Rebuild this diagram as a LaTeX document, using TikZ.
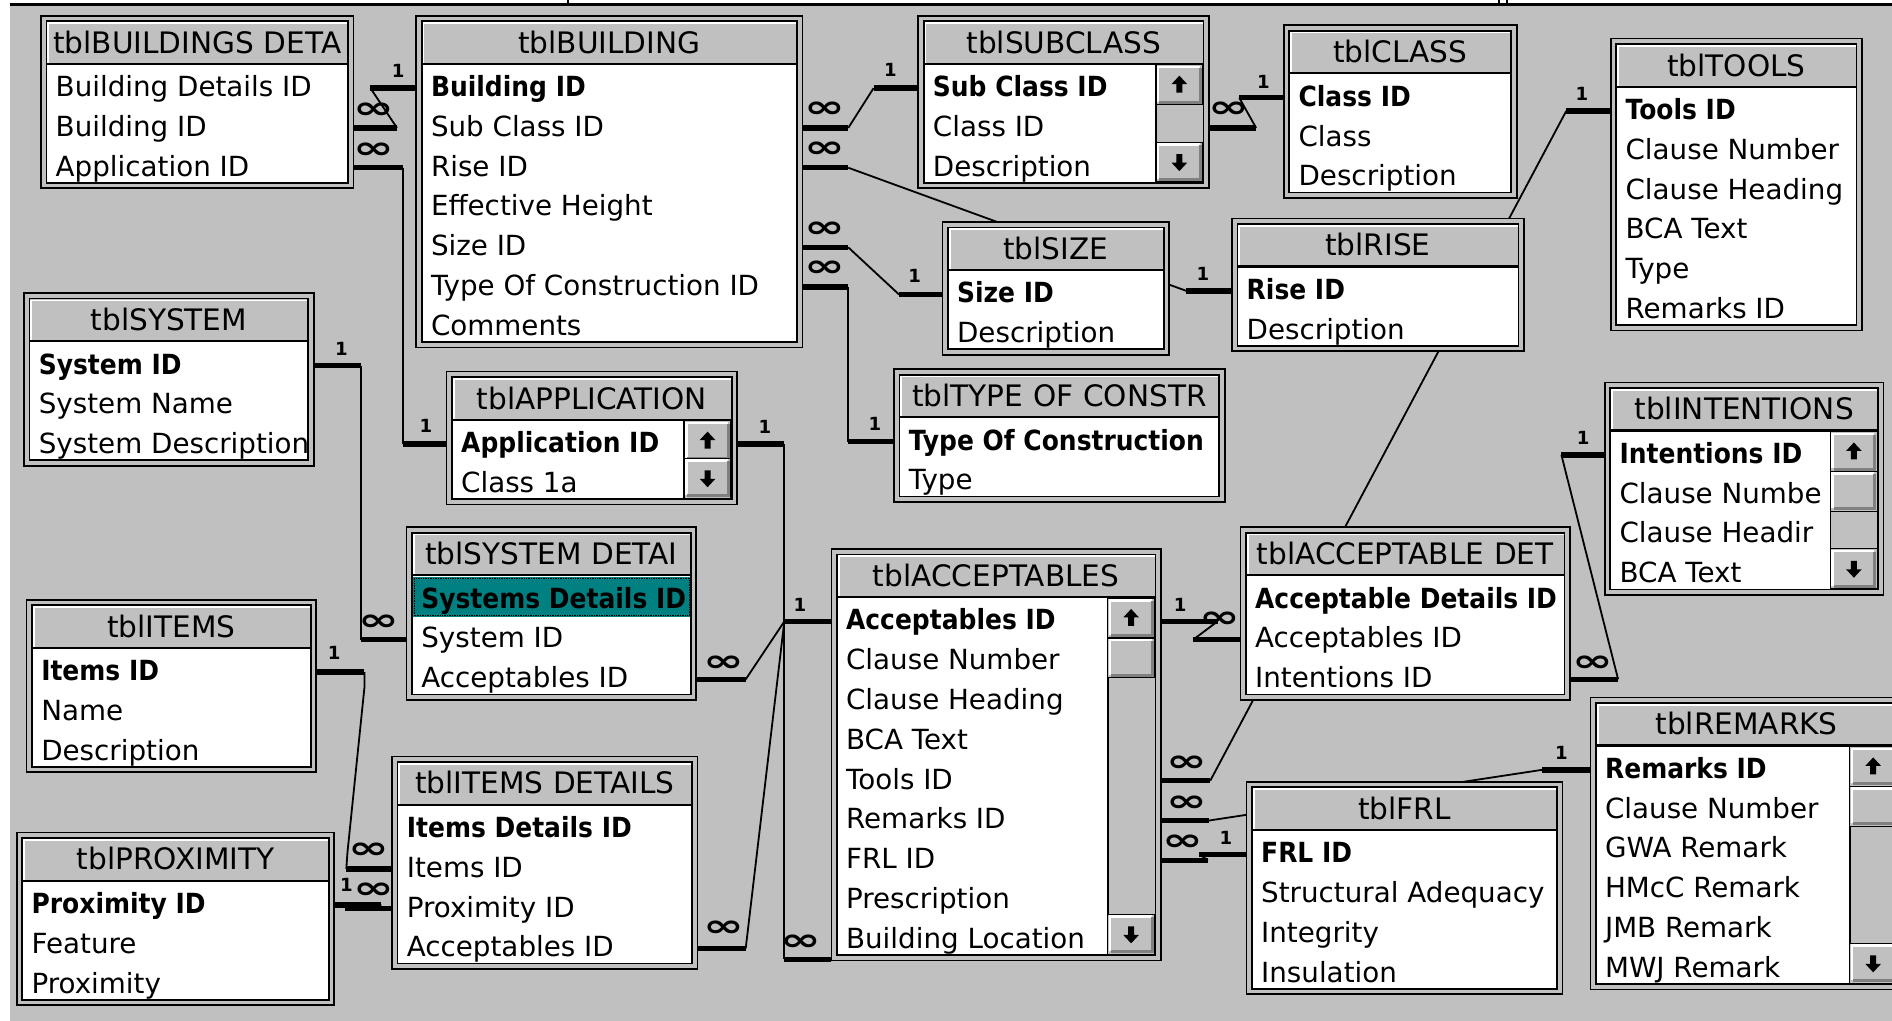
\documentclass[tikz,border=0pt]{standalone}
\usepackage{fontspec}
\setmainfont{DejaVu Sans}
\newfontfamily\keyfont[FakeStretch=0.9]{DejaVu Sans}
\usepackage{graphicx}
\usepackage{xcolor}
\definecolor{panelgray}{RGB}{192,192,192}
\definecolor{btnshadow}{RGB}{128,128,128}
\definecolor{selteal}  {RGB}{0,  128,128}
\pgfdeclarelayer{back}
\pgfdeclarelayer{links}
\pgfsetlayers{back,links,main}

\newcommand{\key}{\keyfont\bfseries}
\newcommand{\many}{\scalebox{1.35}[0.85]{∞}}
% id, x0, y0, x1, rows, title, fields, extra
\newcommand{\dbtable}[8]{%
    \pgfmathsetmacro{\yb}{#3+77+33*(#5-1)}
    \pgfmathsetmacro{\tw}{#4-#2-14}
    \draw[tblframe, fill=panelgray] (#2,#3) rectangle (#4,\yb);
    \draw[tblframe, fill=white] (#2+4.5,#3+4.5) rectangle (#4-4.5,\yb-4.5);
    \fill[panelgray] (#2+5.2,#3+5.2) rectangle (#4-5.2,#3+39);
    \draw[white, line width=1.5] (#2+6,#3+39) -- (#2+6,#3+6) -- (#4-5.2,#3+6);
    \draw[line width=1.8] (#2+5.2,#3+39.8) -- (#4-5.2,#3+39.8);
    \begin{scope}
        \clip (#2+5.2,#3+5.2) rectangle (#4-5.2,#3+39);
        \node[tbltitle, text width=\tw pt] (#1) at ({(#2+#4)/2},#3+31) {\mbox{#6}};
    \end{scope}
    #8
    \begin{scope}
        \clip (#2+5.2,#3+40.7) rectangle (#4-5.2,\yb-5.2);
        \foreach \fld [count=\i] in {#7}
            \node[fieldtxt] (#1-\i) at (#2+12,#3+67+33*\i-33) {\fld};
    \end{scope}
    \foreach \fld [count=\i] in {#7} {
        \coordinate (#1-\i-w) at (#2,#3+60+33*\i-33);
        \coordinate (#1-\i-e) at (#4,#3+60+33*\i-33);
    }
    \coordinate (#1-bw) at (#2,\yb-1);
}
\newcommand{\sbbutton}[4]{%
    \draw[line width=1, fill=panelgray] (#1,#2) rectangle (#3,#4);
    \draw[white, line width=2] (#1+1.8,#4-2.5) -- (#1+1.8,#2+1.8) -- (#3-2.5,#2+1.8);
    \draw[btnshadow, line width=2.5] (#1+2.5,#4-2) -- (#3-2,#4-2) -- (#3-2,#2+2.5);
}
% x1, y0, rows, thumb
\newcommand{\scrollbar}[4]{%
    \pgfmathsetmacro{\sxa}{#1-44}
    \pgfmathsetmacro{\sxb}{#1-5.2}
    \pgfmathsetmacro{\sya}{#2+40.7}
    \pgfmathsetmacro{\syb}{#2+77+33*(#3-1)-5.2}
    \pgfmathsetmacro{\sxm}{(\sxa+\sxb)/2}
    \fill[panelgray] (\sxa,\sya) rectangle (\sxb,\syb);
    \draw[line width=1.5] (\sxa,\sya) -- (\sxa,\syb);
    \sbbutton{\sxa}{\sya}{\sxb}{\sya+33}
    \fill (\sxm,\sya+9) -- ++(6.5,7) -- ++(-4,0) -- ++(0,7) -- ++(-5,0) -- ++(0,-7) -- ++(-4,0) -- cycle;
    \ifnum#4=1 \sbbutton{\sxa}{\sya+33}{\sxb}{\sya+66}\fi
    \sbbutton{\sxa}{\syb-33}{\sxb}{\syb}
    \fill (\sxm,\syb-9) -- ++(6.5,-7) -- ++(-4,0) -- ++(0,-7) -- ++(-5,0) -- ++(0,7) -- ++(-4,0) -- cycle;
}

\begin{document}
\begin{tikzpicture}[x=1pt, y=-1pt,
    tblframe/.style={line width=1.4},
    tbltitle/.style={font=\fontsize{24.5}{28}\selectfont, inner sep=0pt, anchor=base, align=center},
    fieldtxt/.style={font=\fontsize{23}{26}\selectfont, inner sep=0pt, anchor=base west},
    stub/.style={line width=4.5},
    link/.style={line width=1.5},
    one/.style={font=\fontsize{15}{15}\selectfont\bfseries, inner sep=0pt},
    many/.style={font=\fontsize{30}{30}\selectfont\bfseries, inner sep=0pt}]
    \useasboundingbox (0,0) rectangle (1568,846);

    \begin{pgfonlayer}{back}
        \fill[white] (0,0) rectangle (1568,846);
        \fill[panelgray] (8,5) rectangle (1568,846);
        \draw[line width=3] (8,3.6) -- (1568,3.6);
        \draw[line width=1.5] (471,0) -- (471,3) (1242,0) -- (1242,3) (1249,0) -- (1249,3);
    \end{pgfonlayer}

    \dbtable{bdet}{34}{13}{293}{3}{tblBUILDINGS DETA}
        {Building Details ID, Building ID, Application ID}{}
    \dbtable{bld}{345}{13}{665}{7}{tblBUILDING}
        {\key Building ID, Sub Class ID, Rise ID, Effective Height, Size ID, Type Of Construction ID, Comments}{}
    \dbtable{sub}{761}{13}{1002}{3}{tblSUBCLASS}
        {\key Sub Class ID, Class ID, Description}{}
    \scrollbar{1002}{13}{3}{0}
    \dbtable{cls}{1064}{21}{1257}{3}{tblCLASS}
        {\key Class ID, Class, Description}{}
    \dbtable{tls}{1335}{32}{1543}{6}{tblTOOLS}
        {\key Tools ID, Clause Number, Clause Heading, BCA Text, Type, Remarks ID}{}
    \dbtable{sys}{20}{243}{260}{3}{tblSYSTEM}
        {\key System ID, System Name, System Description}{}
    \dbtable{size}{781}{184}{969}{2}{tblSIZE}
        {\key Size ID, Description}{}
    \dbtable{rise}{1021}{181}{1263}{2}{tblRISE}
        {\key Rise ID, Description}{}
    \dbtable{app}{370}{308}{611}{2}{tblAPPLICATION}
        {\key Application ID, Class 1a}{}
    \scrollbar{611}{308}{2}{0}
    \dbtable{toc}{741}{306}{1015}{2}{tblTYPE OF CONSTR}
        {\key Type Of Construction, Type}{}
    \dbtable{int}{1330}{317}{1561}{4}{tblINTENTIONS}
        {\key Intentions ID, Clause Numbe, Clause Headir, BCA Text}{}
    \scrollbar{1561}{317}{4}{1}
    \dbtable{sdt}{337}{437}{577}{3}{tblSYSTEM DETAI}
        {\key Systems Details ID, System ID, Acceptables ID}
        {\fill[selteal] (342,478) rectangle (572,511);
         \draw[densely dotted] (343,478.8) rectangle (571,510.2);}
    \dbtable{acc}{689}{455}{962}{9}{tblACCEPTABLES}
        {\key Acceptables ID, Clause Number, Clause Heading, BCA Text, Tools ID, Remarks ID, FRL ID, Prescription, Building Location}{}
    \scrollbar{962}{455}{9}{1}
    \dbtable{adt}{1028}{437}{1301}{3}{tblACCEPTABLE DET}
        {\key Acceptable Details ID, Acceptables ID, Intentions ID}{}
    \dbtable{itm}{22}{497}{262}{3}{tblITEMS}
        {\key Items ID, Name, Description}{}
    \dbtable{idt}{325}{627}{578}{4}{tblITEMS DETAILS}
        {\key Items Details ID, Items ID, Proximity ID, Acceptables ID}{}
    \dbtable{prx}{14}{690}{277}{3}{tblPROXIMITY}
        {\key Proximity ID, Feature, Proximity}{}
    \dbtable{frl}{1033}{648}{1295}{4}{tblFRL}
        {\key FRL ID, Structural Adequacy, Integrity, Insulation}{}
    \dbtable{rem}{1318}{578}{1577}{6}{tblREMARKS}
        {\key Remarks ID, Clause Number, GWA Remark, HMcC Remark, JMB Remark, MWJ Remark}{}
    \scrollbar{1577}{578}{6}{1}

    \begin{pgfonlayer}{links}
        \draw[stub] (bdet-2-e) -- ++(36,0) coordinate (l1a);
        \draw[stub] (bld-1-w) -- ++(-38,0) coordinate (l1b);
        \draw[link] (l1a) -- (l1b);
        \node[many] (m1) at (310,92) {\many};
        \node[one] (n1) at (330,59) {1};

        \draw[stub] (bdet-3-e) -- ++(41,0) coordinate (l2a);
        \draw[stub] (app-1-w) -- ++(-36,0) coordinate (l2b);
        \draw[link] (l2a) -- (l2b);
        \node[many] (m2) at (310,125) {\many};
        \node[one] (n2) at (353,353) {1};

        \draw[stub] (bld-2-e) -- ++(38,0) coordinate (l3a);
        \draw[stub] (sub-1-w) -- ++(-37,0) coordinate (l3b);
        \draw[link] (l3a) -- (l3b);
        \node[many] (m3) at (684,91) {\many};
        \node[one] (n3) at (738,58) {1};

        \draw[stub] (bld-3-e) -- ++(38,0) coordinate (l4a);
        \draw[stub] (rise-1-w) -- ++(-38,0) coordinate (l4b);
        \draw[link] (l4a) -- (l4b);
        \node[many] (m4) at (684,124) {\many};
        \node[one] (n4) at (997,227) {1};

        \draw[stub] (bld-5-e) -- ++(38,0) coordinate (l5a);
        \draw[stub] (size-1-w) -- ++(-36,0) coordinate (l5b);
        \draw[link] (l5a) -- (l5b);
        \node[many] (m5) at (684,190) {\many};
        \node[one] (n5) at (758,229) {1};

        \draw[stub] (bld-6-e) -- ++(38,0) coordinate (l6a);
        \draw[stub] (toc-1-w) -- ++(-38,0) coordinate (l6b);
        \draw[link] (l6a) -- (l6b);
        \node[many] (m6) at (684,223) {\many};
        \node[one] (n6) at (725,351) {1};

        \draw[stub] (sub-2-e) -- ++(39,0) coordinate (l7a);
        \draw[stub] (cls-1-w) -- ++(-37,0) coordinate (l7b);
        \draw[link] (l7a) -- (l7b);
        \node[many] (m7) at (1018,91) {\many};
        \node[one] (n7) at (1047,68) {1};

        \draw[stub] (tls-1-w) -- ++(-37,0) coordinate (l8a);
        \draw[stub] (acc-5-e) -- ++(41,0) coordinate (l8b);
        \draw[link] (l8a) -- (l8b);
        \node[one] (n8) at (1311,78) {1};
        \node[many] (m8) at (984,633) {\many};

        \draw[stub] (rem-1-w) -- ++(-40,0) coordinate (l9a);
        \draw[stub] (acc-6-e) -- ++(40,0) coordinate (l9b);
        \draw[link] (l9a) -- (l9b);
        \node[one] (n9) at (1294,624) {1};
        \node[many] (m9) at (984,666) {\many};

        \draw[stub] (frl-1-w) -- ++(-39,0) coordinate (l10a);
        \draw[stub] (acc-7-e) -- ++(39,0) coordinate (l10b);
        \draw[link] (l10a) -- (l10b);
        \node[one] (n10) at (1016,694) {1};
        \node[many] (m10) at (980,698) {\many};

        \draw[stub] (acc-1-e) -- ++(47,0) coordinate (l11a);
        \draw[stub] (adt-2-w) -- ++(-39,0) coordinate (l11b);
        \draw[link] (l11a) -- (l11b);
        \node[one] (n11) at (978,501) {1};
        \node[many] (m11) at (1011,514) {\many};

        \draw[stub] (int-1-w) -- ++(-36,0) coordinate (l12a);
        \draw[stub] (adt-3-e) -- ++(40,0) coordinate (l12b);
        \draw[link] (l12a) -- (l12b);
        \node[one] (n12) at (1312,363) {1};
        \node[many] (m12) at (1320,550) {\many};

        \draw[stub] (sys-1-e) -- ++(39,0) coordinate (l13a);
        \draw[stub] (sdt-2-w) -- ++(-38,0) coordinate (l13b);
        \draw[link] (l13a) -- (l13b);
        \node[one] (n13) at (283,289) {1};
        \node[many] (m13) at (314,516) {\many};

        \draw[stub] (app-1-e) -- ++(39,0) coordinate (l14a);
        \draw[stub] (acc-bw) -- ++(-39,0) coordinate (l14b);
        \draw[link] (l14a) -- (l14b);
        \node[one] (n14) at (634,354) {1};
        \node[many] (m14) at (664,781) {\many};

        \draw[stub] (acc-1-w) -- ++(-39,0) coordinate (l15a);
        \draw[stub] (sdt-3-e) -- ++(41,0) coordinate (l15b);
        \draw[link] (l15a) -- (l15b);
        \node[one] (n15) at (663,501) {1};
        \node[many] (m15) at (600,550) {\many};

        \draw[stub] (idt-4-e) -- ++(40,0) coordinate (l16a);
        \draw[link] (l16a) -- (l15a);
        \node[many] (m16) at (600,770) {\many};

        \draw[stub] (itm-1-e) -- ++(40,0) coordinate (l17a);
        \draw[stub] (idt-2-w) -- ++(-38,0) coordinate (l17b);
        \draw[link] (l17a) -- ++(0,13) -- ++(-14,136) -- (l17b);
        \node[one] (n17) at (277,541) {1};
        \node[many] (m17) at (306,705) {\many};

        \draw[stub] (prx-1-e) -- ++(39,0) coordinate (l18a);
        \draw[stub] (idt-3-w) -- ++(-39,0) coordinate (l18b);
        \draw[link] (l18a) -- (l18b);
        \node[many] (m18) at (310,738) {\many};
        \node[one] (n18) at (287,733) {1};
    \end{pgfonlayer}
\end{tikzpicture}
\end{document}
